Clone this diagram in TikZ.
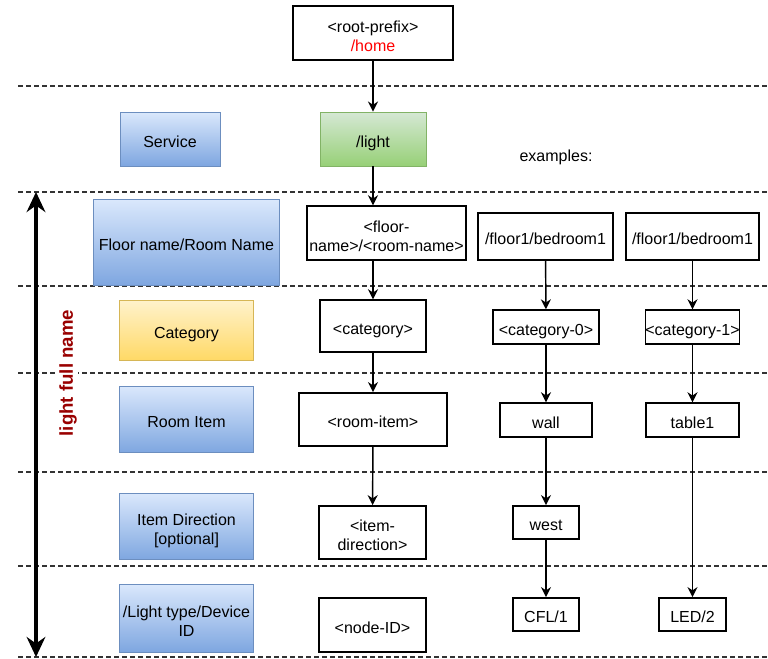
\documentclass[tikz,border=0pt]{standalone}
\usepackage{fontspec}
\setmainfont{Liberation Sans}
\usetikzlibrary{arrows.meta}
\definecolor{bluetop}{HTML}{DAE8FC}
\definecolor{bluebot}{HTML}{7EA6E0}
\definecolor{blueline}{HTML}{6C8EBF}
\definecolor{greentop}{HTML}{D5E8D4}
\definecolor{greenbot}{HTML}{97D077}
\definecolor{greenline}{HTML}{82B366}
\definecolor{yellowtop}{HTML}{FFF2CC}
\definecolor{yellowbot}{HTML}{FFD966}
\definecolor{yellowline}{HTML}{D6B656}
\definecolor{namered}{HTML}{990000}
\definecolor{sepgray}{HTML}{333333}

\begin{document}
\begin{tikzpicture}[x=0.75pt,y=-0.75pt,line width=1.1pt,>={Stealth[length=7.5pt,width=7.5pt]},
  font=\fontsize{12}{14.25}\selectfont,
  txt/.style={align=center,inner xsep=0pt,inner ysep=0pt,
    execute at begin node={\rule[-2.5pt]{0pt}{17.2pt}},execute at end node={\rule[-2.5pt]{0pt}{0pt}}},
  twolines/.style={execute at begin node={\rule{0pt}{29.5pt}}},
  box/.style={txt,draw=black,fill=white},
  lblblue/.style={txt,draw=blueline,line width=0.7pt,top color=bluetop,bottom color=bluebot},
  lblgreen/.style={txt,draw=greenline,line width=0.7pt,top color=greentop,bottom color=greenbot},
  lblyellow/.style={txt,draw=yellowline,line width=0.7pt,top color=yellowtop,bottom color=yellowbot},
  sep/.style={sepgray,line width=0.8pt,dash pattern=on 3.5pt off 2.5pt}]
  \useasboundingbox (0,0) rectangle (768,658);
  % layer separators
  \foreach \y in {86,192,286,373,472,566,657}
    \draw[sep] (18,\y) -- (768,\y);
  % total span of the light full name
  \coordinate (spantop) at (36,192);
  \coordinate (spanbot) at (36,657);
  \draw[{Stealth[length=15pt,width=14pt]}-{Stealth[length=15pt,width=14pt]},line width=2.4pt] (spantop) -- (spanbot);
  \node[rotate=90,fill=white,inner sep=1pt,text=namered,font=\fontsize{14}{16}\selectfont\bfseries] (fullname) at (68,373) {light full name};
  % level labels
  \node[lblblue,minimum width=75pt,minimum height=40.5pt] (service) at (170,139) {Service};
  \node[lblblue,minimum width=140pt,minimum height=65pt] (floorlbl) at (186.5,242.5) {Floor name/Room Name};
  \node[lblyellow,minimum width=100pt,minimum height=45pt] (catlbl) at (186.5,330) {Category};
  \node[lblblue,minimum width=100pt,minimum height=50pt] (roomlbl) at (186.5,419.5) {Room Item};
  \node[lblblue,twolines,minimum width=100pt,minimum height=50pt] (dirlbl) at (186.5,526.5) {Item Direction\\{}[optional]};
  \node[lblblue,twolines,minimum width=100pt,minimum height=51pt] (typelbl) at (186.5,618) {/Light type/Device\\ID};
  % generic name
  \node[box,twolines,minimum width=120pt,minimum height=40.5pt] (root) at (373,33) {<root-prefix>\\\textcolor{red}{/home}};
  \node[lblgreen,minimum width=79.5pt,minimum height=40.5pt] (light) at (373,139) {/light};
  \node[box,twolines,minimum width=119pt,minimum height=40.5pt] (floorbox) at (386.5,233) {<floor-\\name>/<room-name>};
  \node[box,minimum width=79.5pt,minimum height=39pt] (catbox) at (373,326) {<category>};
  \node[box,minimum width=111pt,minimum height=40pt] (roombox) at (373,419.5) {<room-item>};
  \node[box,twolines,minimum width=80pt,minimum height=40pt] (dirbox) at (372.5,532.5) {<item-\\direction>};
  \node[box,minimum width=80pt,minimum height=40.5pt] (nodeid) at (372.5,625) {<node-ID>};
  % examples
  \node (examples) at (556,157) {examples:};
  \node[box,minimum width=101pt,minimum height=35pt] (floorA) at (545.5,236.5) {/floor1/bedroom1};
  \node[box,minimum width=79.5pt,minimum height=25.5pt] (catA) at (546,327) {<category-0>};
  \node[box,minimum width=69pt,minimum height=25.5pt] (wall) at (546,420) {wall};
  \node[box,minimum width=49.5pt,minimum height=25pt] (west) at (546,522.5) {west};
  \node[box,minimum width=49.5pt,minimum height=25pt] (cfl) at (546,614.5) {CFL/1};
  \node[box,minimum width=100pt,minimum height=35pt] (floorB) at (692.5,236.5) {/floor1/bedroom1};
  \node[box,minimum width=70pt,minimum height=25.5pt] (catB) at (692.5,327) {<category-1>};
  \node[box,minimum width=70pt,minimum height=25.5pt] (table) at (692.5,420) {table1};
  \node[box,minimum width=50pt,minimum height=25pt] (led) at (692.5,614.5) {LED/2};
  % connectors
  \draw[->] (root) -- (light);
  \draw[->] (light.south) -- (light.south |- floorbox.north);
  \draw[->] (floorbox.south -| catbox) -- (catbox);
  \draw[->] (catbox) -- (roombox);
  \draw[->] (roombox) -- (dirbox);
  \draw[->] (floorA) -- (catA);
  \draw[->] (catA) -- (wall);
  \draw[->] (wall) -- (west);
  \draw[->] (west) -- (cfl);
  \draw[->] (floorB) -- (catB);
  \draw[->] (catB) -- (table);
  \draw[->] (table) -- (led);
\end{tikzpicture}
\end{document}
